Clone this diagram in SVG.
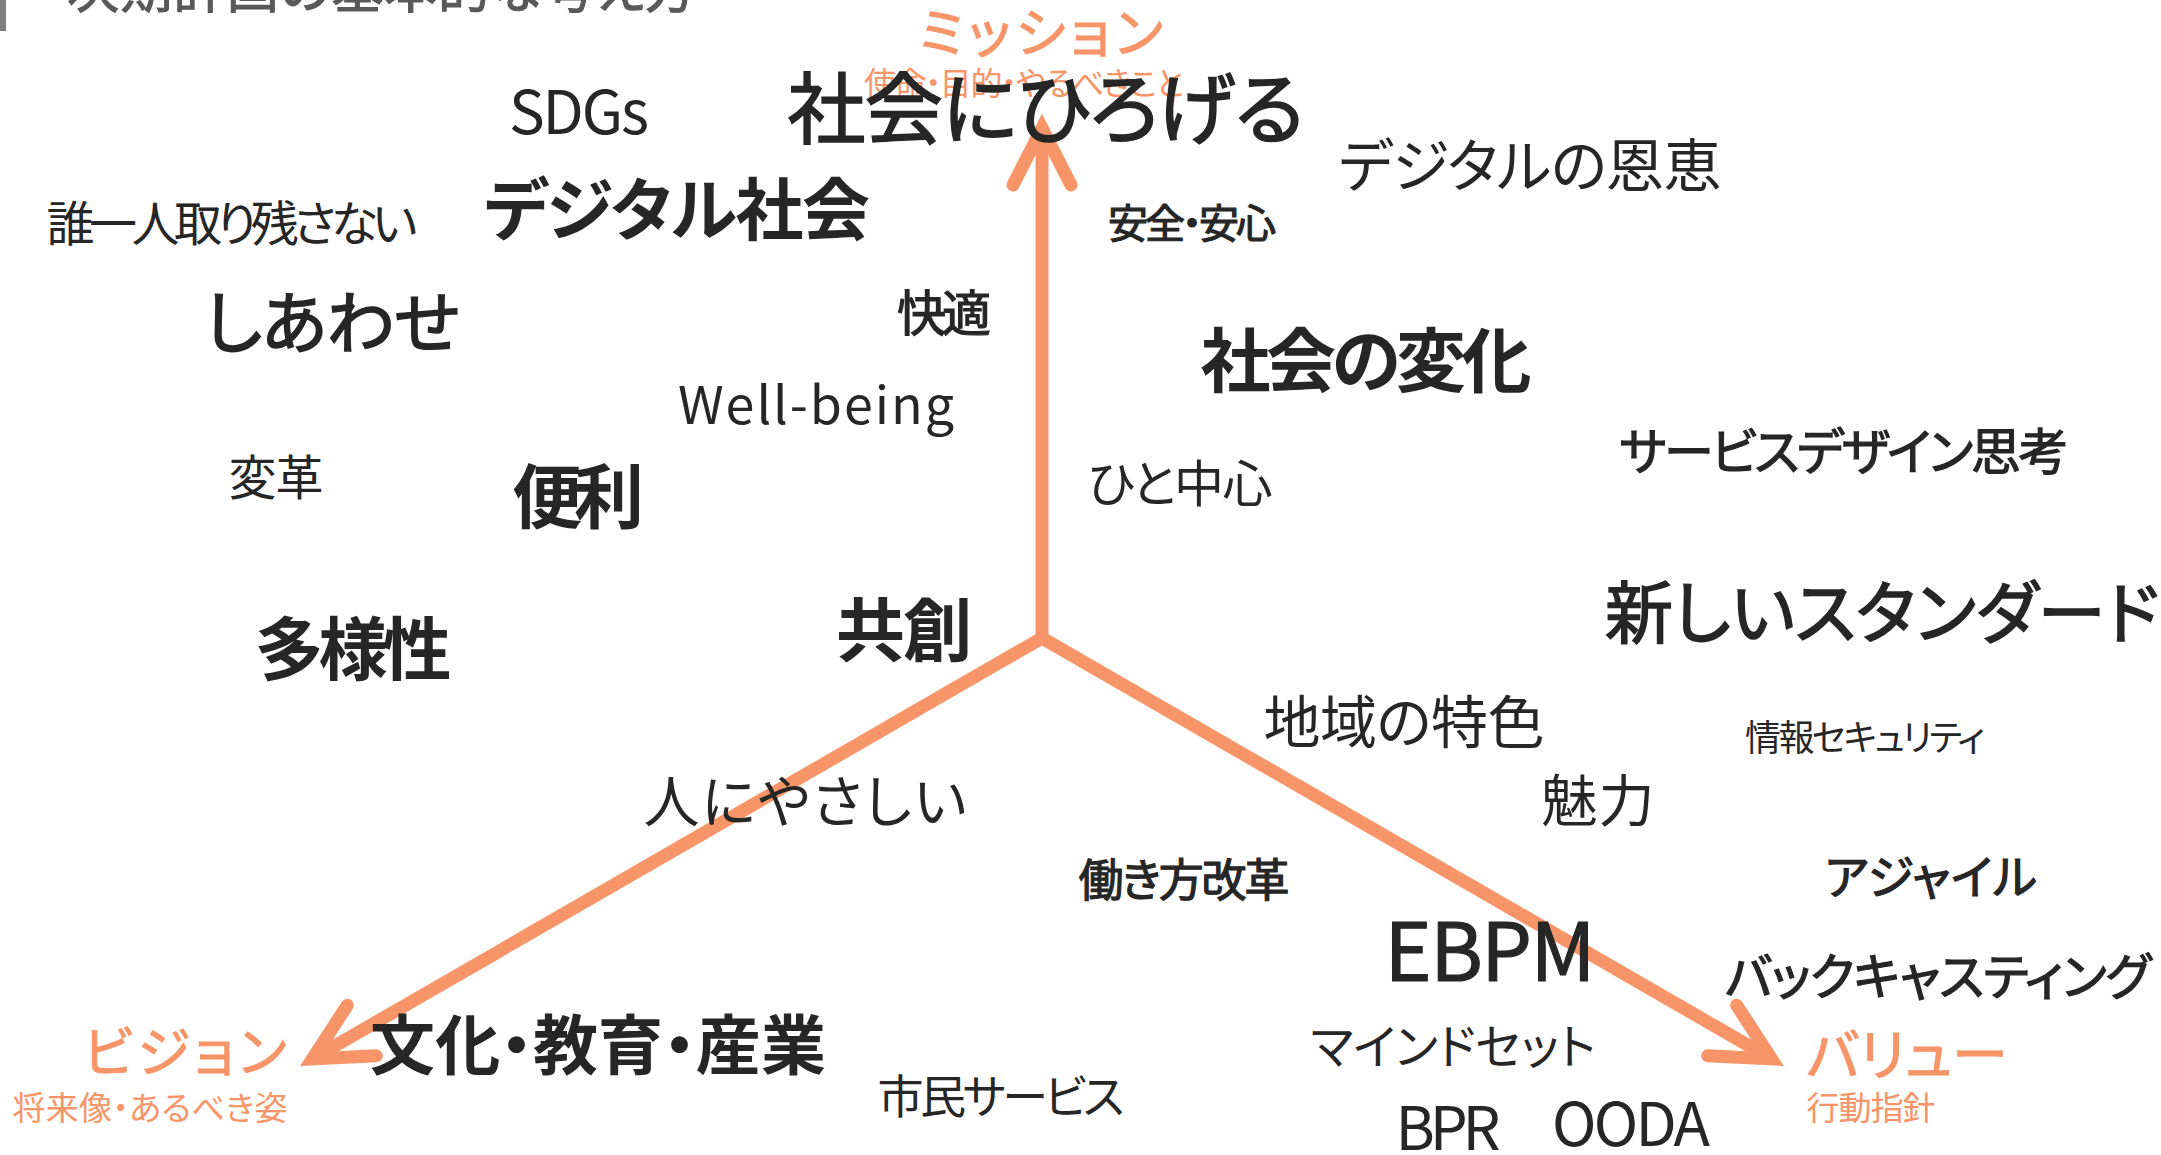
<svg xmlns="http://www.w3.org/2000/svg" width="2161" height="1155" viewBox="0 0 2161 1155">
<style>
text{font-family:"Noto Sans CJK JP","Noto Sans",sans-serif;fill:#262626;text-anchor:middle;font-feature-settings:"palt";}
.b{font-weight:700;}
.m{font-weight:400;stroke:#262626;stroke-width:1.6;}
.s{font-weight:400;stroke:#262626;stroke-width:1.2;}
.o{fill:#F79468;}
.ol{fill:#F79468;stroke:#F79468;stroke-width:1;}
.ti{fill:#595959;stroke:#595959;stroke-width:1.2;}
.arr{fill:none;stroke:#F79468;stroke-width:13;stroke-linejoin:miter;}
.head{stroke-linecap:round;}
</style>
<rect width="2161" height="1155" fill="#ffffff"/>
<g id="title">
<rect x="0" y="0" width="6" height="31" fill="#7f7f7f"/>
<text class="ti" x="382" y="8" font-size="52" textLength="630">次期計画の基本的な考え方</text>
</g>
<g id="mission-label">
<text class="ol" x="1041" y="53" font-size="54" textLength="244">ミッション</text>
<text class="o" x="1024" y="95" font-size="32" textLength="320">使命・目的・やるべきこと</text>
</g>
<g id="vision-label">
<text class="ol" x="185" y="1072" font-size="54" textLength="203">ビジョン</text>
<text class="o" x="150" y="1120" font-size="33" textLength="275">将来像・あるべき姿</text>
</g>
<g id="value-label">
<text class="ol" x="1907" y="1075" font-size="56" textLength="201">バリュー</text>
<text class="o" x="1871" y="1120" font-size="33" textLength="129">行動指針</text>
</g>
<g id="connectors">
<path class="arr" d="M1042 638 L1042 130"/>
<path class="arr" d="M312.4 1058.9 L1042 638 L1771.6 1058.9"/>
<path class="arr head" d="M1013 185 L1042 128 L1071 185"/>
<path class="arr head" d="M347.3 1005.3 L312.4 1058.9 L376.3 1055.7"/>
<path class="arr head" d="M1736.7 1005.3 L1771.6 1058.9 L1707.7 1055.7"/>
</g>
<g id="n-sdgs"><text x="579" y="134" font-size="60" textLength="140">SDGs</text></g>
<g id="n-shakai-hirogeru"><text class="m" x="1046" y="138" font-size="78" textLength="517">社会にひろげる</text></g>
<g id="n-digital-onkei"><text x="1530" y="187" font-size="58" textLength="383">デジタルの恩恵</text></g>
<g id="n-dareichinin"><text x="232" y="241" font-size="48" textLength="371">誰一人取り残さない</text></g>
<g id="n-digital-shakai"><text class="b" x="677" y="235" font-size="68" textLength="386">デジタル社会</text></g>
<g id="n-anzen"><text class="s" x="1192" y="238" font-size="40" textLength="168">安全・安心</text></g>
<g id="n-shiawase"><text class="m" x="332" y="348" font-size="68" textLength="255">しあわせ</text></g>
<g id="n-kaiteki"><text class="s" x="944" y="331" font-size="49" textLength="94">快適</text></g>
<g id="n-shakai-henka"><text class="b" x="1366" y="387" font-size="70" textLength="331">社会の変化</text></g>
<g id="n-wellbeing"><text x="816" y="424" font-size="52" textLength="276">Well-being</text></g>
<g id="n-service-design"><text class="s" x="1844" y="470" font-size="50" textLength="449">サービスデザイン思考</text></g>
<g id="n-henkaku"><text x="276" y="495" font-size="48" textLength="95">変革</text></g>
<g id="n-benri"><text class="b" x="578" y="523" font-size="70" textLength="132">便利</text></g>
<g id="n-hito-chushin"><text x="1180" y="502" font-size="50" textLength="185">ひと中心</text></g>
<g id="n-new-standard"><text class="m" x="1882" y="638" font-size="68" textLength="554">新しいスタンダード</text></g>
<g id="n-kyoso"><text class="b" x="904" y="656" font-size="69" textLength="136">共創</text></g>
<g id="n-tayosei"><text class="b" x="353" y="675" font-size="69" textLength="197">多様性</text></g>
<g id="n-chiiki"><text x="1404" y="743" font-size="57" textLength="281">地域の特色</text></g>
<g id="n-security"><text x="1865" y="751" font-size="36" textLength="240">情報セキュリティ</text></g>
<g id="n-hito-yasashii"><text x="805" y="822" font-size="56" textLength="323">人にやさしい</text></g>
<g id="n-miryoku"><text x="1598" y="821" font-size="56" textLength="113">魅力</text></g>
<g id="n-hatarakikata"><text class="s" x="1184" y="897" font-size="45" textLength="211">働き方改革</text></g>
<g id="n-agile"><text class="s" x="1931" y="894" font-size="47" textLength="212">アジャイル</text></g>
<g id="n-ebpm"><text class="s" x="1490" y="981" font-size="80" textLength="211">EBPM</text></g>
<g id="n-backcasting"><text class="s" x="1938" y="995" font-size="50" textLength="426">バックキャスティング</text></g>
<g id="n-bunka"><text class="b" x="598" y="1069" font-size="65" textLength="456">文化・教育・産業</text></g>
<g id="n-shimin"><text x="1001" y="1113" font-size="46" textLength="247">市民サービス</text></g>
<g id="n-mindset"><text x="1453" y="1064" font-size="48" textLength="285">マインドセット</text></g>
<g id="n-bpr"><text x="1448" y="1150" font-size="60" textLength="105">BPR</text></g>
<g id="n-ooda"><text x="1631" y="1146" font-size="60" textLength="158">OODA</text></g>
</svg>
